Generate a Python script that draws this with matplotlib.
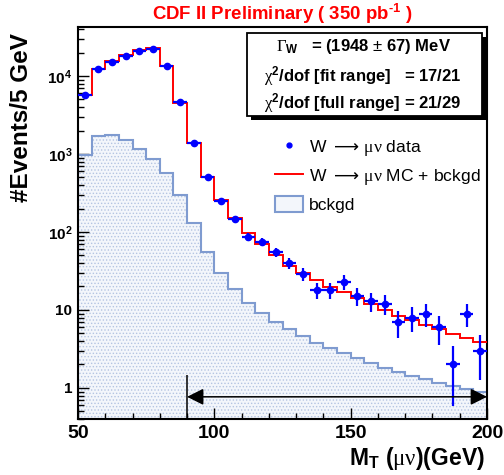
import numpy as np
import matplotlib
matplotlib.use("Agg")
import matplotlib.pyplot as plt
from matplotlib.lines import Line2D
from matplotlib.patches import Patch, Rectangle
from matplotlib.ticker import FixedLocator, LogLocator, NullFormatter, MultipleLocator, FuncFormatter

plt.rcParams['font.family'] = ['Liberation Sans', 'DejaVu Sans']
plt.rcParams['mathtext.fontset'] = 'custom'
plt.rcParams['mathtext.rm'] = 'Liberation Sans'
plt.rcParams['mathtext.bf'] = 'Liberation Sans:bold'
plt.rcParams['mathtext.sf'] = 'Liberation Serif'
plt.rcParams['mathtext.cal'] = 'DejaVu Sans'
plt.rcParams['mathtext.it'] = 'Liberation Sans:italic'
plt.rcParams['hatch.linewidth'] = 0.6

# M_T bins, 5 GeV wide
edges = np.arange(50, 205, 5)

# W -> mu nu data (events / 5 GeV)
data = [5700, 12300, 15200, 18000, 21100, 22200, 13300, 4600, 1400, 500,
        250, 146, 87, 74, 55, 40, 29, 18, 18, 23,
        15, 13, 12, 7, 8, 9, 6, 2, 9, 3]

# MC + background
mc = [5700, 12300, 15600, 18400, 21600, 22700, 13400, 4470, 1400, 510,
      257, 150, 96, 70, 51, 36.6, 30, 24.2, 19.9, 16.9,
      14.1, 11.9, 10.0, 8.45, 7.45, 6.4, 5.65, 4.92, 4.34, 3.85]

# background only
bkg = [970, 1720, 1750, 1510, 1160, 855, 566, 298, 129, 56,
       30, 18.4, 12.4, 9.2, 7.1, 5.65, 4.64, 3.74, 3.23, 2.78,
       2.40, 2.07, 1.82, 1.62, 1.43, 1.29, 1.15, 1.06, 0.96, 0.90]

# fit range marker
fit_lo, fit_hi = 90, 200
arrow_y = 0.77
cut_top = 1.47

box_lines = [r'$\mathsf{\Gamma}_{\mathbf{W}}$   = (1948 $\pm$ 67) MeV',
             r'$\mathsf{\chi}^{\mathbf{2}}$/dof [fit range]   = 17/21',
             r'$\mathsf{\chi}^{\mathbf{2}}$/dof [full range] = 21/29']

bkg_face = '#f3f6fb'
bkg_dots = '#b4c4e2'
bkg_edge = '#7f9bd0'

fig = plt.figure(figsize=(5.04, 4.75), dpi=100)
ax = fig.add_axes([78/504, 56/475, 409/504, 392/475])
ax.set_yscale('log')

ax.stairs(bkg, edges, fill=True, baseline=1e-3, facecolor=bkg_face,
          edgecolor=bkg_dots, hatch='.....', linewidth=0, zorder=1)
ax.stairs(bkg, edges, baseline=None, color=bkg_edge, lw=1.5, zorder=2)
ax.stairs(mc, edges, baseline=None, color='red', lw=1.4, zorder=3)

centers = (edges[:-1] + edges[1:]) / 2
ax.errorbar(centers, data, yerr=np.sqrt(data), xerr=2.5, fmt='o', color='blue',
            ms=4.5, lw=1.6, capsize=0, zorder=4)

ax.annotate('', xy=(fit_lo, arrow_y), xytext=(fit_hi, arrow_y),
            arrowprops=dict(arrowstyle='<|-|>,head_length=0.5,head_width=0.25',
                            color='black', lw=1.1, shrinkA=0, shrinkB=0,
                            mutation_scale=20), zorder=5)
ax.vlines(fit_lo, 0.3, cut_top, color='black', lw=1.1, zorder=5)

ax.set_xlim(50, 200)
ax.set_ylim(0.40, 42500)

ax.xaxis.set_major_locator(FixedLocator([50, 100, 150, 200]))
ax.xaxis.set_minor_locator(MultipleLocator(10))
ax.yaxis.set_major_locator(LogLocator(base=10, numticks=10))
ax.yaxis.set_minor_locator(LogLocator(base=10, subs=range(2, 10), numticks=20))
ax.yaxis.set_minor_formatter(NullFormatter())


def ylab(v, pos):
    if v < 1.5:
        return '1'
    if v < 15:
        return '10'
    return r'$\mathbf{10^{%d}}$' % round(np.log10(v))


ax.yaxis.set_major_formatter(FuncFormatter(ylab))
ax.tick_params(which='both', direction='in', top=False, right=False, width=1)
ax.tick_params(which='major', length=8)
ax.tick_params(which='minor', length=4.5)
ax.tick_params(axis='x', labelsize=14, pad=4)
ax.tick_params(axis='y', labelsize=11, pad=4)
for lab in ax.get_xticklabels() + ax.get_yticklabels():
    lab.set_fontweight('bold')
for sp in ax.spines.values():
    sp.set_linewidth(1.5)

handles = [Line2D([], [], marker='o', color='blue', ls='none', ms=3.5),
           Line2D([], [], color='red', lw=1.4),
           Patch(facecolor=bkg_face, edgecolor=bkg_edge, lw=1.5)]
labels = [r'W $\mathcal{\longrightarrow}\,\mathsf{\mu\nu}$ data',
          r'W $\mathcal{\longrightarrow}\,\mathsf{\mu\nu}$ MC + bckgd',
          'bckgd']
ax.legend(handles, labels, loc='upper left', bbox_to_anchor=(275/504, 1 - 138/475),
          bbox_transform=fig.transFigure, frameon=False, borderpad=0,
          borderaxespad=0, handlelength=1.6, handletextpad=0.35,
          labelspacing=0.48, handleheight=1.1, fontsize=12.6)

# stats box with shadow
fig.add_artist(Rectangle((251/504, 1 - 120/475), 235/504, 83/475,
                         transform=fig.transFigure, facecolor='black',
                         edgecolor='none', zorder=3))
fig.add_artist(Rectangle((247/504, 1 - 116/475), 235/504, 83/475,
                         transform=fig.transFigure, facecolor='white',
                         edgecolor='black', lw=1.3, zorder=4))
for line, yy in zip(box_lines, [47, 76, 103]):
    fig.text(363/504, 1 - yy/475, line, ha='center', va='center',
             fontsize=12, weight='bold', zorder=5)

fig.text(282/504, 1 - 14/475, 'CDF II Preliminary ( 350 pb$^{\\mathbf{\u2010}\\mathbf{1}}$ )',
         color='red', fontsize=13.4, weight='bold', ha='center', va='center')
fig.text(22/504, 1 - 33/475, '#Events/5 GeV', rotation=90, ha='center',
         va='top', fontsize=17.5, weight='bold')
fig.text(485/504, 1 - 458/475, r'M$_{\mathbf{T}}$ ($\mathsf{\mu\nu}$)(GeV)',
         ha='right', va='center', fontsize=16.5, weight='bold')

fig.savefig('out.png', dpi=100)
